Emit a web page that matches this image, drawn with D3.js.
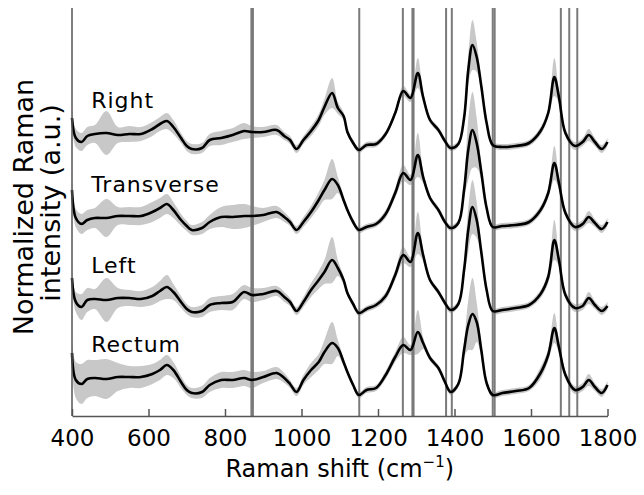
<!DOCTYPE html>
<html>
<head>
<script src="https://d3js.org/d3.v7.min.js"></script>
<style>
body { margin: 0; background: #fff; }
text { font-family: "DejaVu Sans", Verdana, sans-serif; }
</style>
</head>
<body>
<div id="viz"></div>
<script>
// Raman shift (cm-1) sample points shared by all four spectra
var shift = [400, 410, 425, 440, 460, 490, 520, 550, 580, 610,
  630, 648, 665, 685, 700, 713, 740, 760, 790, 820,
  850, 870, 900, 935, 955, 970, 987, 1005, 1025, 1045,
  1060, 1080, 1095, 1110, 1120, 1135, 1150, 1170, 1195, 1220,
  1245, 1266, 1285, 1304, 1318, 1336, 1358, 1375, 1390, 1410,
  1425, 1436, 1447, 1458, 1470, 1484, 1500, 1525, 1560, 1595,
  1625, 1645, 1661, 1673, 1690, 1715, 1735, 1751, 1767, 1785,
  1800];

var names = ["Right", "Transverse", "Left", "Rectum"];

// mean spectra (already stacked, a.u.)
var right = [2.98, 2.78, 2.74, 2.80, 2.82, 2.83, 2.81, 2.82, 2.82, 2.87,
  2.92, 2.95, 2.89, 2.78, 2.70, 2.67, 2.68, 2.76, 2.78, 2.81,
  2.85, 2.84, 2.84, 2.86, 2.80, 2.76, 2.67, 2.76, 2.85, 2.96,
  3.09, 3.23, 3.08, 3.00, 2.84, 2.73, 2.66, 2.71, 2.72, 2.82,
  3.03, 3.25, 3.18, 3.43, 3.19, 2.96, 2.86, 2.75, 2.68, 2.72,
  2.98, 3.46, 3.71, 3.59, 3.30, 2.93, 2.71, 2.69, 2.70, 2.73,
  2.85, 3.03, 3.39, 3.19, 2.83, 2.70, 2.74, 2.81, 2.74, 2.67,
  2.74];
var transverse = [2.26, 1.98, 1.92, 1.96, 1.98, 1.98, 2.00, 2.00, 2.00, 2.04,
  2.08, 2.12, 2.06, 1.96, 1.90, 1.86, 1.88, 1.94, 1.99, 1.99,
  2.00, 2.00, 2.01, 2.04, 1.99, 1.94, 1.86, 1.94, 2.04, 2.16,
  2.26, 2.37, 2.31, 2.16, 2.06, 1.94, 1.86, 1.89, 1.92, 2.02,
  2.23, 2.43, 2.36, 2.61, 2.39, 2.18, 2.06, 1.94, 1.88, 1.93,
  2.26, 2.66, 2.86, 2.73, 2.44, 2.08, 1.89, 1.90, 1.91, 1.94,
  2.06, 2.23, 2.53, 2.33, 2.03, 1.89, 1.92, 1.99, 1.93, 1.87,
  1.94];
var left = [1.38, 1.14, 1.09, 1.16, 1.17, 1.16, 1.18, 1.18, 1.17, 1.20,
  1.25, 1.29, 1.24, 1.14, 1.07, 1.04, 1.05, 1.11, 1.13, 1.14,
  1.24, 1.21, 1.22, 1.25, 1.19, 1.14, 1.05, 1.14, 1.26, 1.36,
  1.44, 1.56, 1.48, 1.36, 1.23, 1.12, 1.03, 1.07, 1.11, 1.20,
  1.41, 1.61, 1.54, 1.83, 1.61, 1.36, 1.24, 1.13, 1.06, 1.12,
  1.46, 1.86, 2.09, 1.96, 1.64, 1.26, 1.05, 1.06, 1.08, 1.11,
  1.22, 1.39, 1.76, 1.56, 1.21, 1.08, 1.10, 1.18, 1.11, 1.05,
  1.10];
var rectum = [0.63, 0.36, 0.32, 0.37, 0.38, 0.37, 0.39, 0.39, 0.39, 0.42,
  0.46, 0.51, 0.46, 0.34, 0.26, 0.23, 0.24, 0.31, 0.36, 0.36,
  0.38, 0.36, 0.39, 0.43, 0.38, 0.32, 0.24, 0.36, 0.46, 0.54,
  0.64, 0.73, 0.68, 0.54, 0.44, 0.31, 0.21, 0.26, 0.28, 0.41,
  0.59, 0.71, 0.66, 0.84, 0.73, 0.58, 0.48, 0.34, 0.24, 0.32,
  0.66, 0.91, 1.02, 0.94, 0.66, 0.33, 0.21, 0.23, 0.25, 0.28,
  0.43, 0.61, 0.88, 0.69, 0.41, 0.26, 0.29, 0.36, 0.29, 0.23,
  0.31];

// standard deviations (grey bands)
var rightSd = [0.10, 0.09, 0.09, 0.09, 0.09, 0.22, 0.08, 0.08, 0.07, 0.07,
  0.07, 0.08, 0.07, 0.05, 0.05, 0.05, 0.05, 0.06, 0.07, 0.07,
  0.08, 0.06, 0.05, 0.05, 0.04, 0.04, 0.04, 0.04, 0.05, 0.06,
  0.08, 0.15, 0.06, 0.04, 0.03, 0.03, 0.03, 0.03, 0.03, 0.03,
  0.03, 0.05, 0.04, 0.15, 0.05, 0.03, 0.03, 0.03, 0.03, 0.03,
  0.04, 0.15, 0.25, 0.15, 0.06, 0.03, 0.03, 0.03, 0.03, 0.03,
  0.04, 0.05, 0.19, 0.06, 0.04, 0.04, 0.04, 0.06, 0.04, 0.04,
  0.04];
var transverseSd = [0.10, 0.09, 0.10, 0.10, 0.10, 0.19, 0.09, 0.09, 0.09, 0.10,
  0.10, 0.10, 0.08, 0.06, 0.05, 0.05, 0.06, 0.07, 0.10, 0.12,
  0.12, 0.10, 0.07, 0.06, 0.05, 0.04, 0.04, 0.05, 0.06, 0.08,
  0.10, 0.20, 0.08, 0.04, 0.03, 0.03, 0.03, 0.03, 0.03, 0.04,
  0.05, 0.08, 0.05, 0.22, 0.06, 0.03, 0.03, 0.03, 0.03, 0.03,
  0.08, 0.30, 0.38, 0.25, 0.08, 0.03, 0.03, 0.03, 0.03, 0.03,
  0.04, 0.05, 0.17, 0.06, 0.04, 0.04, 0.04, 0.06, 0.04, 0.04,
  0.04];
var leftSd = [0.12, 0.10, 0.13, 0.12, 0.10, 0.22, 0.10, 0.08, 0.08, 0.09,
  0.10, 0.12, 0.08, 0.06, 0.05, 0.05, 0.06, 0.07, 0.07, 0.08,
  0.07, 0.07, 0.06, 0.05, 0.05, 0.04, 0.04, 0.05, 0.07, 0.09,
  0.12, 0.23, 0.08, 0.04, 0.03, 0.03, 0.03, 0.03, 0.03, 0.04,
  0.05, 0.08, 0.05, 0.21, 0.06, 0.03, 0.03, 0.03, 0.03, 0.03,
  0.08, 0.22, 0.27, 0.18, 0.06, 0.03, 0.03, 0.03, 0.03, 0.03,
  0.04, 0.06, 0.20, 0.06, 0.04, 0.04, 0.04, 0.06, 0.04, 0.04,
  0.04];
var rectumSd = [0.14, 0.18, 0.20, 0.19, 0.18, 0.20, 0.14, 0.11, 0.11, 0.10,
  0.10, 0.10, 0.08, 0.06, 0.05, 0.05, 0.06, 0.07, 0.08, 0.08,
  0.08, 0.08, 0.06, 0.06, 0.05, 0.04, 0.04, 0.05, 0.07, 0.08,
  0.12, 0.21, 0.08, 0.04, 0.03, 0.03, 0.03, 0.03, 0.03, 0.04,
  0.05, 0.08, 0.05, 0.22, 0.06, 0.03, 0.03, 0.03, 0.03, 0.03,
  0.08, 0.25, 0.36, 0.20, 0.06, 0.03, 0.03, 0.03, 0.03, 0.03,
  0.06, 0.06, 0.15, 0.06, 0.04, 0.04, 0.04, 0.06, 0.04, 0.04,
  0.04];

// band positions marked with vertical lines (cm-1)
var bands = [869, 873, 1151, 1265, 1290, 1293, 1378, 1393, 1500, 1505, 1678, 1700, 1721];

var xTicks = [400, 600, 800, 1000, 1200, 1400, 1600, 1800];

var series = [right, transverse, left, rectum];
var sds = [rightSd, transverseSd, leftSd, rectumSd];

var W = 644, H = 495;
var margin = {top: 8, right: 36.5, bottom: 79, left: 72};

var x = d3.scaleLinear().domain([400, 1800]).range([margin.left, W - margin.right]);
var y = d3.scaleLinear().domain([0, 4.08]).range([H - margin.bottom, margin.top]);

var curve = d3.curveCatmullRom.alpha(0.5);

var svg = d3.select("#viz").append("svg")
  .attr("width", W)
  .attr("height", H);

// grey bands (mean +- sd)
series.forEach(function(vals, k) {
  var area = d3.area()
    .curve(curve)
    .x(function(d, i) { return x(shift[i]); })
    .y0(function(d, i) { return y(vals[i] - sds[k][i]); })
    .y1(function(d, i) { return y(vals[i] + sds[k][i]); });
  svg.append("path")
    .attr("d", area(vals))
    .attr("fill", "#c8c8c8");
});

// vertical band markers
svg.selectAll(".band")
  .data(bands)
  .enter().append("line")
  .attr("class", "band")
  .attr("x1", function(d) { return x(d); })
  .attr("x2", function(d) { return x(d); })
  .attr("y1", y.range()[1])
  .attr("y2", y.range()[0])
  .attr("stroke", "#7a7a7a")
  .attr("stroke-width", 2);

// mean spectra
series.forEach(function(vals) {
  var line = d3.line()
    .curve(curve)
    .x(function(d, i) { return x(shift[i]); })
    .y(function(d) { return y(d); });
  svg.append("path")
    .attr("d", line(vals))
    .attr("fill", "none")
    .attr("stroke", "#000")
    .attr("stroke-width", 2.6)
    .attr("stroke-linejoin", "round");
});

// series names
series.forEach(function(vals, k) {
  svg.append("text")
    .attr("x", x(450))
    .attr("y", y(vals[4]) - 26)
    .attr("font-size", "22px")
    .attr("letter-spacing", "1px")
    .attr("fill", "#000")
    .text(names[k]);
});

// axes
var xAxis = d3.axisBottom(x)
  .tickValues(xTicks)
  .tickFormat(d3.format("d"))
  .tickSizeInner(-7)
  .tickSizeOuter(0)
  .tickPadding(14);

var gx = svg.append("g")
  .attr("transform", "translate(0," + y.range()[0] + ")")
  .call(xAxis);
gx.select(".domain").attr("stroke", "#555").attr("stroke-width", 1.5);
gx.selectAll(".tick line").attr("stroke", "#555").attr("stroke-width", 1.5);
gx.selectAll(".tick text")
  .attr("font-size", "23px")
  .attr("font-family", "DejaVu Sans, Verdana, sans-serif")
  .attr("fill", "#000");

svg.append("line")
  .attr("x1", x(400)).attr("x2", x(400))
  .attr("y1", y.range()[1]).attr("y2", y.range()[0])
  .attr("stroke", "#555")
  .attr("stroke-width", 1.5);

// x title
var xt = svg.append("text")
  .attr("x", (x.range()[0] + x.range()[1]) / 2)
  .attr("y", 477)
  .attr("text-anchor", "middle")
  .attr("font-size", "24px")
  .attr("fill", "#000");
xt.append("tspan").text("Raman shift (cm");
xt.append("tspan").attr("font-size", "15px").attr("dy", "-10").text("\u22121");
xt.append("tspan").attr("dy", "10").text(")");

// y title
var yt = svg.append("g")
  .attr("transform", "translate(0," + 207 + ") rotate(-90)");
yt.append("text")
  .attr("x", 0).attr("y", 33)
  .attr("text-anchor", "middle")
  .attr("font-family", "Liberation Sans, Arial, sans-serif")
  .attr("font-size", "27px")
  .text("Normalized Raman");
yt.append("text")
  .attr("x", 4).attr("y", 60)
  .attr("text-anchor", "middle")
  .attr("font-family", "Liberation Sans, Arial, sans-serif")
  .attr("font-size", "27px")
  .text("intensity (a.u.)");
</script>
</body>
</html>
